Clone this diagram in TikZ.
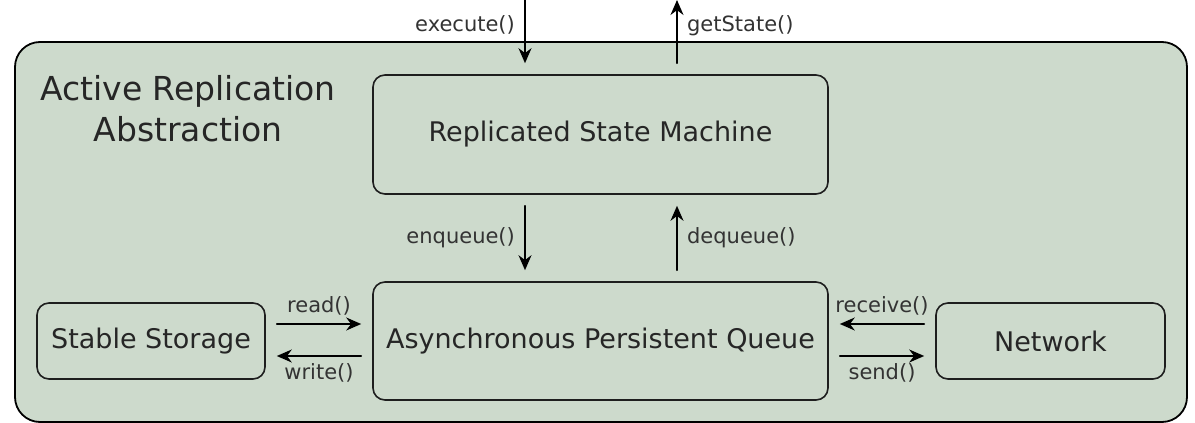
\documentclass[tikz,border=0pt]{standalone}
\usepackage{fontspec}
\setmainfont{DejaVu Sans}
\usetikzlibrary{arrows.meta}
\definecolor{panel}{RGB}{205,218,204}
\definecolor{edge}{RGB}{30,30,30}

\begin{document}
\begin{tikzpicture}[x=1pt,y=-1pt,>={Stealth[length=15pt,width=13pt]}, line join=round, line cap=round]
        \tikzset{block/.style={draw=edge,line width=1.6pt,rounded corners=12pt,inner sep=0pt,
                 font=\fontsize{27}{32}\selectfont,text=black!85},
                 call/.style={font=\fontsize{21}{25}\selectfont,text=black!80},
                 link/.style={->,line width=1.6pt,shorten >=11pt,shorten <=11pt}}
        \useasboundingbox (0,0) rectangle (1195,423);
        \draw[fill=panel,line width=1.8pt,rounded corners=25pt] (15,42) rectangle (1187,422);
        \node[align=center,font=\fontsize{33}{41}\selectfont,text=black!85] (title) at (188,109) {Active Replication\\Abstraction};
        % boxes
        \node[block,minimum width=455pt,minimum height=119pt] (rsm) at (600.5,134.5) {Replicated State Machine};
        \node[block,minimum width=455pt,minimum height=118pt] (apq) at (600.5,341) {Asynchronous Persistent Queue};
        \node[block,minimum width=228pt,minimum height=76pt] (store) at (151,341) {Stable Storage};
        \node[block,minimum width=229pt,minimum height=76pt] (net) at (1050.5,341) {Network};
        \coordinate (in) at (525,0);
        \coordinate (out) at (677,0);
        % calls
        \draw[link,shorten <=0pt] (in) -- ([xshift=-75.5pt]rsm.north) node[call,pos=0.34,left=6pt] {execute()};
        \draw[link,shorten >=0pt] ([xshift=76.5pt]rsm.north) -- (out) node[call,pos=0.66,right=6pt] {getState()};
        \draw[link] ([xshift=-75.5pt]rsm.south) -- ([xshift=-75.5pt]apq.north) node[call,midway,left=6pt] {enqueue()};
        \draw[link] ([xshift=76.5pt]apq.north) -- ([xshift=76.5pt]rsm.south) node[call,midway,right=6pt] {dequeue()};
        \draw[link] ([yshift=17pt]store.east) -- ([yshift=17pt]apq.west) node[call,midway,above=5pt] {read()};
        \draw[link] ([yshift=-15pt]apq.west) -- ([yshift=-15pt]store.east) node[call,midway,below=3pt] {write()};
        \draw[link] ([yshift=17pt]net.west) -- ([yshift=17pt]apq.east) node[call,midway,above=5pt] {receive()};
        \draw[link] ([yshift=-15pt]apq.east) -- ([yshift=-15pt]net.west) node[call,midway,below=3pt] {send()};
\end{tikzpicture}
\end{document}
